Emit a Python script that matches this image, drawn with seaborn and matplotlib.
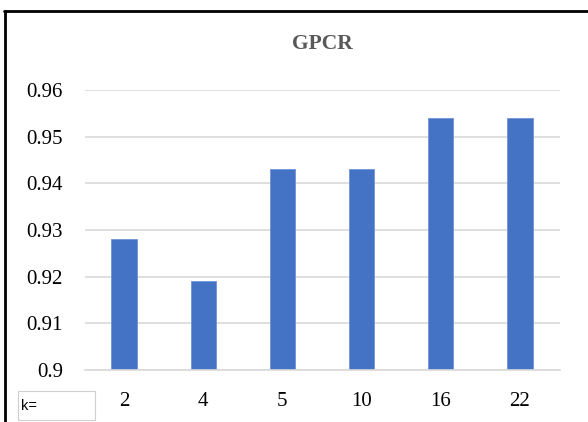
import matplotlib
matplotlib.use("Agg")
import matplotlib.pyplot as plt
from matplotlib.patches import Rectangle
from matplotlib.lines import Line2D
import seaborn as sns
import pandas as pd

# GPCR score for each k
k_values = ["2", "4", "5", "10", "16", "22"]
scores = [0.928, 0.919, 0.943, 0.943, 0.954, 0.954]
y_ticks = [0.90, 0.91, 0.92, 0.93, 0.94, 0.95, 0.96]
y_tick_labels = ["0.9", "0.91", "0.92", "0.93", "0.94", "0.95", "0.96"]

df = pd.DataFrame({"k": k_values, "score": scores})

sns.set_theme(style="white")
plt.rcParams["font.family"] = ["Liberation Serif", "DejaVu Serif"]

fig = plt.figure(figsize=(5.88, 4.22), dpi=100)
ax = fig.add_axes([84.5 / 588, 1 - 370 / 422, (559.5 - 84.5) / 588, (370 - 90) / 422])

sns.barplot(data=df, x="k", y="score", color="#4472C4", width=0.32,
            saturation=1, ax=ax, edgecolor="#6f93d6", linewidth=0.6)

ax.set_ylim(0.90, 0.96)
ax.set_yticks(y_ticks)
ax.set_yticklabels(y_tick_labels)
ax.set_xlim(-0.5, len(k_values) - 0.5)
ax.yaxis.grid(True, color="#d9d9d9", linewidth=1.2)
ax.set_axisbelow(True)
for side in ["top", "right", "left"]:
    ax.spines[side].set_visible(False)
ax.spines["bottom"].set_color("#d9d9d9")
ax.spines["bottom"].set_linewidth(1.2)
ax.tick_params(axis="both", length=0, labelsize=15, colors="black")
ax.tick_params(axis="y", pad=15.5)
ax.tick_params(axis="x", pad=16)
ax.set_xlabel("")
ax.set_ylabel("")

fig.text(0.5 * (84.5 + 559.5) / 588, 1 - 44 / 422, "GPCR", ha="center", va="center",
         fontsize=15.5, fontweight="bold", color="#595959")

# outer frame (top and left edges)
fig.add_artist(Line2D([5 / 588, 5 / 588], [0, 1 - 11 / 422], transform=fig.transFigure,
                      color="black", linewidth=2))
fig.add_artist(Line2D([4 / 588, 1], [1 - 11 / 422, 1 - 11 / 422], transform=fig.transFigure,
                      color="black", linewidth=2))

# field-button box for the category axis
fig.add_artist(Rectangle((18 / 588, 1 - 420 / 422), 77 / 588, 29 / 422,
                         transform=fig.transFigure, facecolor="white",
                         edgecolor="#d0d0d0", linewidth=0.8))
fig.text(21 / 588, 1 - 406 / 422, "k=", ha="left", va="center", fontsize=10.5,
         family=["Liberation Sans", "DejaVu Sans"], color="black")

fig.savefig("out.png", dpi=100)
